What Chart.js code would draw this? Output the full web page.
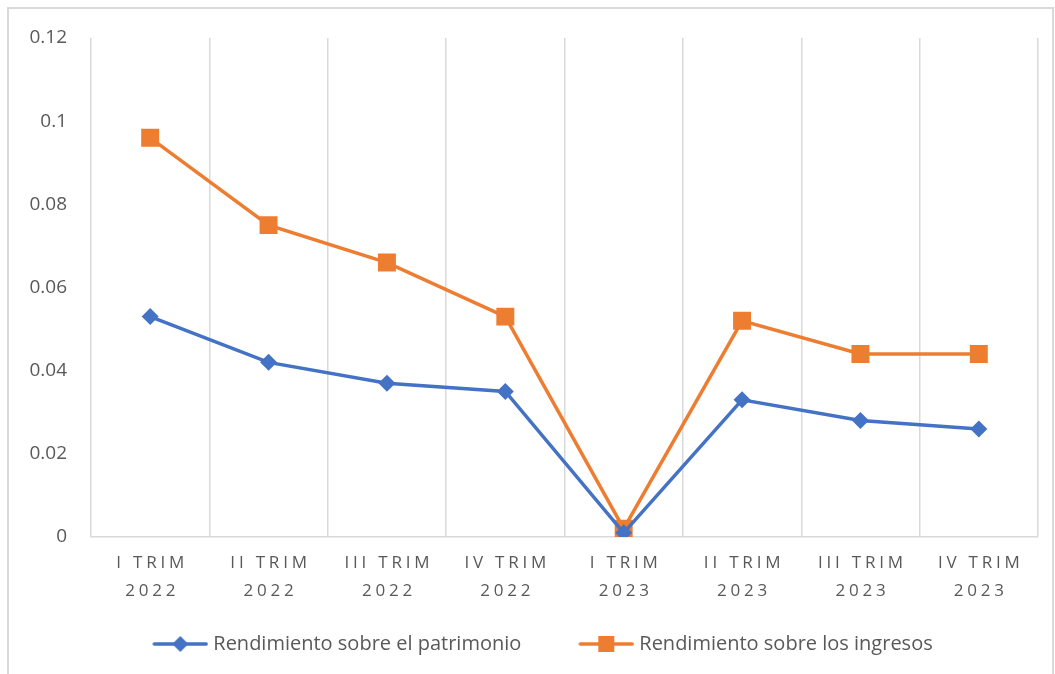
<!DOCTYPE html>
<html>
<head>
<meta charset="utf-8">
<script src="https://cdn.jsdelivr.net/npm/chart.js@4"></script>
<style>
  html, body { margin: 0; padding: 0; background: #fff; }
  #wrap { width: 1055px; height: 674px; }
</style>
</head>
<body>
<div id="wrap"><canvas id="chart" width="1055" height="674"></canvas></div>
<script>
// quarters (two-line labels)
const quarters = [
    ["I TRIM", "2022"], ["II TRIM", "2022"], ["III TRIM", "2022"], ["IV TRIM", "2022"],
    ["I TRIM", "2023"], ["II TRIM", "2023"], ["III TRIM", "2023"], ["IV TRIM", "2023"]
];
const patrimonio = [0.053, 0.042, 0.037, 0.035, 0.001, 0.033, 0.028, 0.026];
const ingresos   = [0.096, 0.075, 0.066, 0.053, 0.002, 0.052, 0.044, 0.044];
const yTickLabels = ["0", "0.02", "0.04", "0.06", "0.08", "0.1", "0.12"];

const BLUE = "#4472C4";
const ORANGE = "#ED7D31";
const FONT = "'Open Sans', 'Noto Sans', sans-serif";

// legend symbol: line with marker, drawn in the right part of a wider image
// so that the gap to the text is small and the gap between items is large
function legendIcon(color, shape) {
    const c = document.createElement("canvas");
    c.width = 108; c.height = 20;
    const g = c.getContext("2d");
    g.strokeStyle = color; g.lineWidth = 3.5; g.lineCap = "round";
    g.beginPath(); g.moveTo(54, 10); g.lineTo(106, 10); g.stroke();
    g.fillStyle = color;
    if (shape === "diamond") {
        g.beginPath(); g.moveTo(80, 2); g.lineTo(88, 10); g.lineTo(80, 18); g.lineTo(72, 10); g.closePath(); g.fill();
    } else {
        g.fillRect(72, 2, 16, 16);
    }
    return c;
}
const icons = [legendIcon(BLUE, "diamond"), legendIcon(ORANGE, "square")];

// outer frame + letter-spaced x labels
const framePlugin = {
    id: "frame",
    beforeDraw(chart) {
        const ctx = chart.ctx;
        ctx.save();
        ctx.strokeStyle = "#d9d9d9";
        ctx.lineWidth = 2;
        ctx.strokeRect(8, 8, 1045, 680);
        ctx.restore();
        const s = chart.scales.x;
        if (!s._spaced) {
            const orig = s.drawLabels;
            s.drawLabels = function (area) {
                this.ctx.save();
                this.ctx.letterSpacing = "3.8px";
                this.ctx.translate(2, 0);
                orig.call(this, area);
                this.ctx.restore();
            };
            s._spaced = true;
        }
    }
};

new Chart(document.getElementById("chart").getContext("2d"), {
    type: "line",
    data: {
        labels: quarters,
        datasets: [
            {
                label: "Rendimiento sobre el patrimonio",
                data: patrimonio,
                borderColor: BLUE,
                backgroundColor: BLUE,
                borderWidth: 3.5,
                pointStyle: "rectRot",
                pointRadius: 8.5,
                pointBorderWidth: 0,
                tension: 0
            },
            {
                label: "Rendimiento sobre los ingresos",
                data: ingresos,
                borderColor: ORANGE,
                backgroundColor: ORANGE,
                borderWidth: 3.5,
                pointStyle: "rect",
                pointRadius: 12.7,
                pointBorderWidth: 0,
                tension: 0
            }
        ]
    },
    options: {
        responsive: false,
        animation: false,
        layout: { padding: { left: 0, right: 17, top: 38, bottom: 10 } },
        plugins: {
            tooltip: { enabled: false },
            legend: {
                position: "bottom",
                labels: {
                    usePointStyle: true,
                    pointStyleWidth: 98,
                    font: { family: FONT, size: 20 },
                    color: "#595959",
                    padding: 10,
                    generateLabels(chart) {
                        return chart.data.datasets.map((ds, i) => ({
                            text: ds.label,
                            pointStyle: icons[i],
                            fillStyle: ds.borderColor,
                            strokeStyle: ds.borderColor,
                            lineWidth: 0,
                            fontColor: "#595959",
                            datasetIndex: i,
                            hidden: false
                        }));
                    }
                }
            }
        },
        scales: {
            x: {
                offset: true,
                grid: { offset: true, color: "#d9d9d9", lineWidth: 1.5, drawTicks: false },
                border: { display: true, color: "#d9d9d9", width: 1.5 },
                ticks: {
                    color: "#595959",
                    font: { family: FONT, size: 17, lineHeight: 1.65 },
                    padding: 12,
                    maxRotation: 0,
                    autoSkip: false
                },
                afterFit(s) { s.height = 87; }
            },
            y: {
                min: 0,
                max: 0.12,
                grid: { display: false, drawTicks: false },
                border: { display: false },
                ticks: {
                    stepSize: 0.02,
                    color: "#595959",
                    font: { family: FONT, size: 19 },
                    padding: 24,
                    callback: (v, i) => yTickLabels[i]
                },
                afterFit(s) { s.width = 91; }
            }
        }
    },
    plugins: [framePlugin]
});
</script>
</body>
</html>
